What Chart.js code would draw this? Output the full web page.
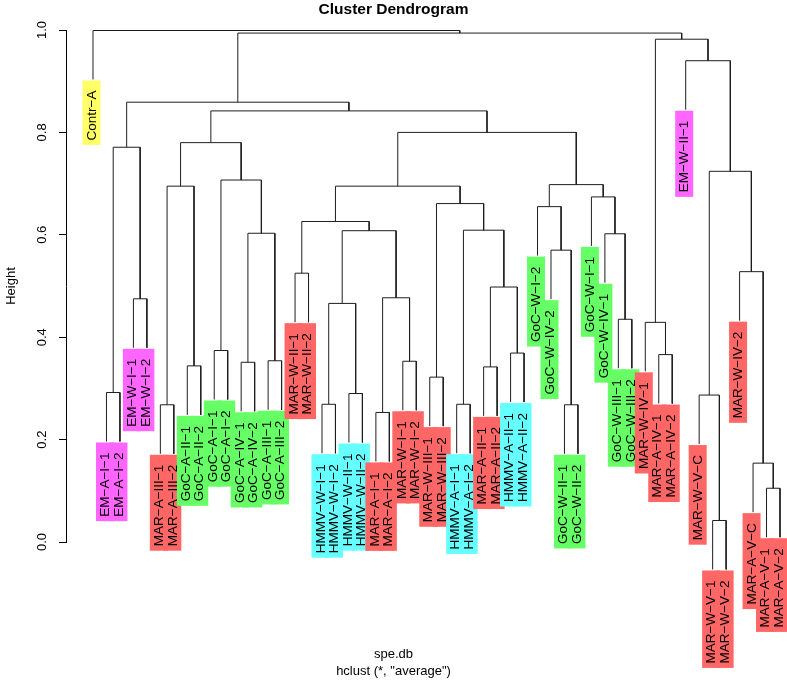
<!DOCTYPE html>
<html>
<head>
<meta charset="utf-8">
<title>Cluster Dendrogram</title>
<script src="https://cdn.jsdelivr.net/npm/chart.js@4/dist/chart.umd.min.js"></script>
<style>
html,body{margin:0;padding:0;background:#fff;overflow:hidden;}
#wrap{width:787px;height:684px;}
</style>
</head>
<body>
<div id="wrap"><canvas id="dendro"></canvas></div>
<script>
/* ── DATA: hclust(spe.db, "average") ── */

// leaves in plotting order (left to right)
var leafLabels = [
  'Contr-A',
  'EM-A-I-1', 'EM-A-I-2', 'EM-W-I-1', 'EM-W-I-2',
  'MAR-A-III-1', 'MAR-A-III-2',
  'GoC-A-II-1', 'GoC-A-II-2', 'GoC-A-I-1', 'GoC-A-I-2',
  'GoC-A-IV-1', 'GoC-A-IV-2', 'GoC-A-III-1', 'GoC-A-III-2',
  'MAR-W-II-1', 'MAR-W-II-2',
  'HMMV-W-I-1', 'HMMV-W-I-2', 'HMMV-W-II-1', 'HMMV-W-II-2',
  'MAR-A-I-1', 'MAR-A-I-2', 'MAR-W-I-1', 'MAR-W-I-2',
  'MAR-W-III-1', 'MAR-W-III-2',
  'HMMV-A-I-1', 'HMMV-A-I-2', 'MAR-A-II-1', 'MAR-A-II-2',
  'HMMV-A-II-1', 'HMMV-A-II-2',
  'GoC-W-I-2', 'GoC-W-IV-2', 'GoC-W-II-1', 'GoC-W-II-2',
  'GoC-W-I-1', 'GoC-W-IV-1', 'GoC-W-III-1', 'GoC-W-III-2',
  'MAR-W-IV-1', 'MAR-A-IV-1', 'MAR-A-IV-2',
  'EM-W-II-1',
  'MAR-W-V-C', 'MAR-W-V-1', 'MAR-W-V-2',
  'MAR-W-IV-2',
  'MAR-A-V-C', 'MAR-A-V-1', 'MAR-A-V-2'
];

// merge steps, like hclust$merge: negative = leaf (position in leafLabels, 1-based),
// positive = an earlier step (1-based)
var mergeLeft  = [-47, -51, -50, -22,  -6, -36, -18, -28, -46, -20,
                   -2, -26, -30,  -8, -12, -24, -14, -43, -32, -10,
                  -42, -40,   7,  -4,   4,  13, -16, -49, -35, -39,
                   15,  23,   8,  27, -34,  12, -38,   5,  34,  35,
                   20,   9,  11,  38,  39,  44,  43, -45,  21,  47,
                   -1];
var mergeRight = [-48, -52,   2, -23,  -7, -37, -19, -29,   1, -21,
                   -3, -27, -31,  -9, -13, -25, -15, -44, -33, -11,
                   18, -41,  10,  -5,  16,  19, -17,   3,   6,  22,
                   17,  25,  26,  32,  29,  33,  30,  14,  36,  37,
                   31,  28,  24,  41,  40,  45,  46,  42,  48,  49,
                   50];
var mergeHeight = [0.042, 0.105, 0.154, 0.253, 0.268, 0.268, 0.269, 0.269, 0.287, 0.290,
                   0.292, 0.322, 0.342, 0.344, 0.351, 0.353, 0.354, 0.366, 0.369, 0.374,
                   0.429, 0.435, 0.466, 0.475, 0.477, 0.498, 0.525, 0.528, 0.570, 0.602,
                   0.603, 0.608, 0.609, 0.626, 0.655, 0.661, 0.674, 0.695, 0.695, 0.698,
                   0.707, 0.724, 0.771, 0.780, 0.800, 0.842, 0.859, 0.940, 0.982, 0.994,
                   0.999];

var yTicks = [0, 0.2, 0.4, 0.6, 0.8, 1.0];

/* ── group colours (label prefix) ── */
var groupColors = {
  'Contr': '#FFFF66',
  'EM':    '#FF66FF',
  'MAR':   '#FF6666',
  'GoC':   '#66FF66',
  'HMMV':  '#66FFFF'
};
function groupColor(lab){
  return groupColors[lab.split('-')[0]] || '#DDDDDD';
}

var FONT = '"Liberation Sans", Arial, Helvetica, sans-serif';

/* ── build the U-shaped links from the merge table ── */
var hang = 0.1 * (Math.max.apply(null, mergeHeight) - Math.min.apply(null, mergeHeight));
var nodeX = [];
var leafEnd = [];

function childX(c){ return c < 0 ? -c : nodeX[c - 1]; }

var datasets = [];
for(var i = 0; i < mergeHeight.length; i++){
  var l = mergeLeft[i], r = mergeRight[i], h = mergeHeight[i];
  var xl = childX(l), xr = childX(r);
  nodeX[i] = (xl + xr) / 2;
  var yl = l < 0 ? h - hang : mergeHeight[l - 1];
  var yr = r < 0 ? h - hang : mergeHeight[r - 1];
  if(l < 0) leafEnd[-l - 1] = yl;
  if(r < 0) leafEnd[-r - 1] = yr;
  datasets.push({
    data: [{x: xl, y: yl}, {x: xl, y: h}, {x: xr, y: h}, {x: xr, y: yr}],
    showLine: true,
    borderColor: '#1e1e1e',
    borderWidth: 1,
    pointRadius: 0,
    fill: false,
    tension: 0,
    clip: false
  });
}

/* ── leaf labels with coloured boxes ── */
var leafLabelPlugin = {
  id: 'leafLabels',
  afterDatasetsDraw: function(chart){
    var ctx = chart.ctx, xs = chart.scales.x, ys = chart.scales.y;
    ctx.save();
    ctx.font = '13.5px ' + FONT;
    var items = leafLabels.map(function(lab, i){
      var txt = lab.replace(/-/g, '\u2212');
      return {
        txt: txt,
        x: xs.getPixelForValue(i + 1),
        y: ys.getPixelForValue(leafEnd[i]),
        w: ctx.measureText(txt).width,
        col: groupColor(lab)
      };
    });
    items.forEach(function(it){
      ctx.fillStyle = it.col;
      ctx.fillRect(it.x - 10.5, it.y + 1, 18, it.w + 14.5);
    });
    ctx.fillStyle = '#000';
    ctx.textAlign = 'right';
    ctx.textBaseline = 'middle';
    items.forEach(function(it){
      ctx.save();
      ctx.translate(it.x - 1, it.y + 11);
      ctx.rotate(-Math.PI / 2);
      ctx.fillText(it.txt, 0, 0);
      ctx.restore();
    });
    ctx.restore();
  }
};

new Chart(document.getElementById('dendro').getContext('2d'), {
  type: 'scatter',
  data: { datasets: datasets },
  options: {
    responsive: true,
    maintainAspectRatio: false,
    animation: false,
    events: [],
    layout: { padding: 0 },
    plugins: {
      legend: { display: false },
      tooltip: { enabled: false },
      title: {
        display: true,
        text: 'Cluster Dendrogram',
        color: '#000',
        font: { family: FONT, size: 15.5, weight: 'bold', lineHeight: 1.2 },
        padding: { top: 0.5, bottom: 10.9 }
      },
      subtitle: {
        display: true,
        position: 'bottom',
        text: ['spe.db', 'hclust (*, "average")'],
        color: '#000',
        font: { family: FONT, size: 13, lineHeight: 1.25 },
        padding: { top: 104.6, bottom: 4.9 }
      }
    },
    scales: {
      x: {
        type: 'linear',
        min: -1.004,
        max: 52.52,
        display: false
      },
      y: {
        type: 'linear',
        position: 'left',
        min: 0,
        max: 1,
        afterFit: function(s){ s.width = 66; },
        afterBuildTicks: function(s){
          s.ticks = yTicks.map(function(v){ return {value: v}; });
        },
        ticks: {
          minRotation: 90,
          maxRotation: 90,
          crossAlign: 'center',
          padding: 8,
          color: '#000',
          font: { family: FONT, size: 13 },
          callback: function(v){ return Number(v).toFixed(1); }
        },
        grid: {
          drawOnChartArea: false,
          drawTicks: true,
          tickLength: 7,
          color: '#000',
          lineWidth: 1
        },
        border: { display: true, color: '#000', width: 1 },
        title: {
          display: true,
          text: 'Height',
          color: '#000',
          font: { family: FONT, size: 13 },
          padding: { top: 4, bottom: 4 }
        }
      }
    }
  },
  plugins: [leafLabelPlugin]
});
</script>
</body>
</html>
